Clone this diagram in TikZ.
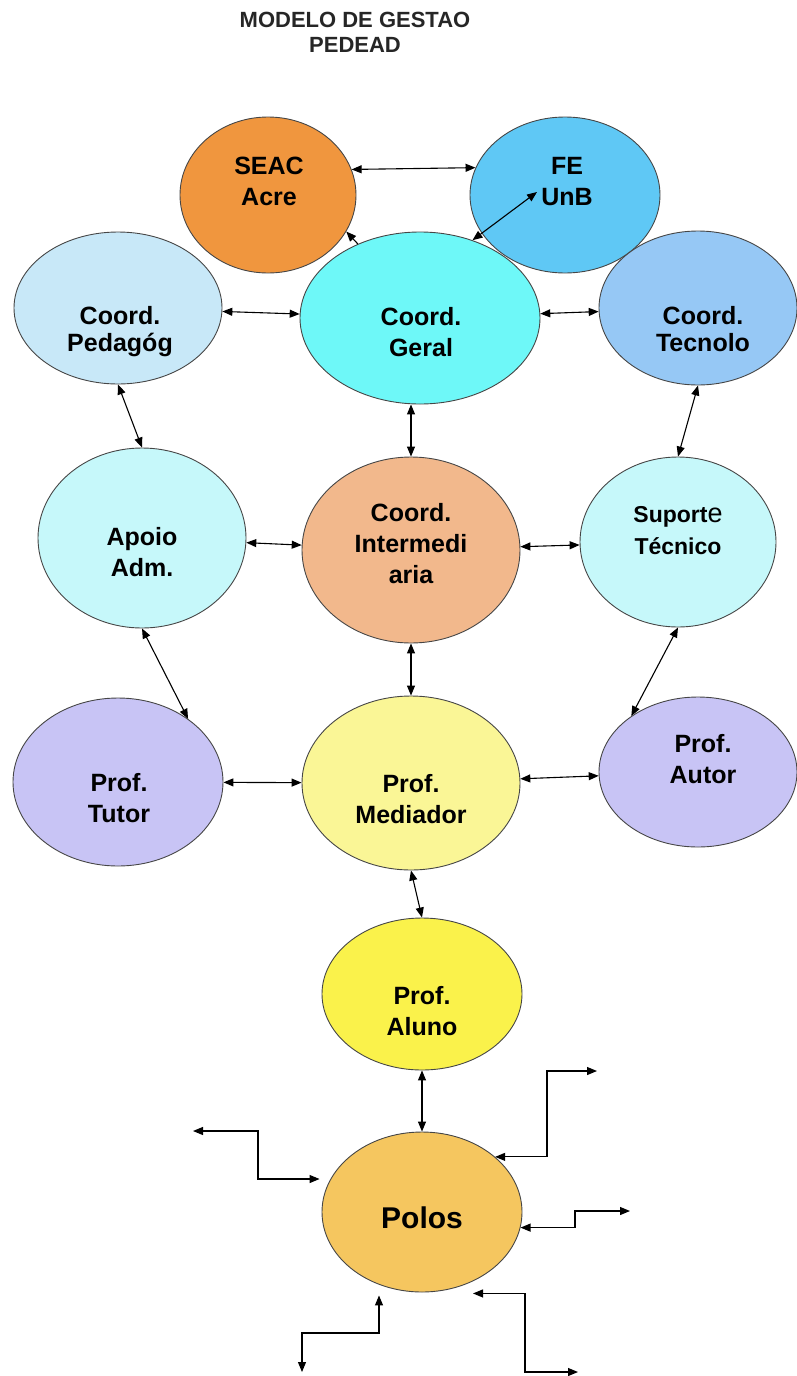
\documentclass[tikz,border=0pt]{standalone}
\usepackage{fontspec}
\setmainfont{Liberation Sans}
\usetikzlibrary{shapes.geometric,arrows.meta,calc}

\definecolor{cSeac}{RGB}{240,150,62}
\definecolor{cFe}{RGB}{95,200,245}
\definecolor{cGeral}{RGB}{110,248,248}
\definecolor{cPedag}{RGB}{200,232,248}
\definecolor{cTecno}{RGB}{150,200,245}
\definecolor{cApoio}{RGB}{198,248,250}
\definecolor{cInter}{RGB}{242,184,140}
\definecolor{cProf}{RGB}{200,196,245}
\definecolor{cMedi}{RGB}{250,246,150}
\definecolor{cAluno}{RGB}{250,242,75}
\definecolor{cPolos}{RGB}{245,198,95}
\definecolor{cEdge}{RGB}{70,70,70}

\begin{document}
\begin{tikzpicture}[x=1pt,y=-1pt,
  ell/.style={ellipse, draw=cEdge, line width=0.9pt, inner sep=0pt},
  txt/.style={inner sep=0pt, align=center, text=black,
    font=\bfseries\fontsize{25}{31}\selectfont},
  txtnarrow/.style={txt, font=\bfseries\fontsize{25}{27}\selectfont},
  tip/.tip={Triangle[length=10pt,width=8pt]},
  dbl/.style={tip-tip, line width=1.1pt, black},
  sgl/.style={-tip, line width=1.1pt, black}]

\useasboundingbox (0,0) rectangle (796,1376);

% title
\node[inner sep=0pt, align=center, text=black!85,
  font=\bfseries\fontsize{22}{25}\selectfont] (title) at (355,35)
  {\strut MODELO DE GESTAO\\PEDEAD\strut};

% ellipses
\node[ell, fill=cSeac, minimum width=176pt, minimum height=156pt] (seac) at (268,195) {};
\node[ell, fill=cFe, minimum width=190pt, minimum height=156pt] (fe) at (565,195) {};
\node[ell, fill=cPedag, minimum width=208pt, minimum height=152pt] (pedag) at (118,308) {};
\node[ell, fill=cGeral, minimum width=240pt, minimum height=172pt] (geral) at (420,318) {};
\node[ell, fill=cTecno, minimum width=198pt, minimum height=154pt] (tecno) at (698,308) {};
\node[ell, fill=cApoio, minimum width=208pt, minimum height=180pt] (apoio) at (142,538) {};
\node[ell, fill=cInter, minimum width=218pt, minimum height=186pt] (inter) at (411,550) {};
\node[ell, fill=cApoio, minimum width=196pt, minimum height=170pt] (suporte) at (678,542) {};
\node[ell, fill=cProf, minimum width=210pt, minimum height=168pt] (tutor) at (118,782) {};
\node[ell, fill=cMedi, minimum width=218pt, minimum height=174pt] (medi) at (411,783) {};
\node[ell, fill=cProf, minimum width=198pt, minimum height=150pt] (autor) at (698,772) {};
\node[ell, fill=cAluno, minimum width=200pt, minimum height=152pt] (aluno) at (422,994) {};
\node[ell, fill=cPolos, minimum width=200pt, minimum height=160pt] (polos) at (422,1212) {};

% labels
\node[txt] (tseac) at (269,184) {\strut SEAC\\Acre\strut};
\node[txt] (tfe) at (567,184) {\strut FE\\UnB\strut};
\node[txtnarrow] (tpedag) at (120,333) {\strut Coord.\\Pedagóg\strut};
\node[txt] (tgeral) at (421,335) {\strut Coord.\\Geral\strut};
\node[txtnarrow] (ttecno) at (703,333) {\strut Coord.\\Tecnolo\strut};
\node[txt] (tapoio) at (142,555) {\strut Apoio\\Adm.\strut};
\node[txt] (tinter) at (411,546) {\strut Coord.\\Intermedi\\aria\strut};
\node[txt, font=\bfseries\fontsize{23}{32}\selectfont] (tsuporte) at (678,532)
  {\strut Suport{\mdseries\fontsize{27}{32}\selectfont e}\\Técnico\strut};
\node[txt] (ttutor) at (119,801) {\strut Prof.\\Tutor\strut};
\node[txt] (tmedi) at (411,802) {\strut Prof.\\Mediador\strut};
\node[txt] (tautor) at (703,762) {\strut Prof.\\Autor\strut};
\node[txt] (taluno) at (422,1014) {\strut Prof.\\Aluno\strut};
\node[txt, font=\bfseries\fontsize{30}{36}\selectfont] (tpolos) at (422,1221) {\strut Polos};

% connectors
\draw[dbl] (seac.17) -- (fe.163);
\draw[dbl] (geral.56) -- ($(fe.center)+(-28,-3)$);
\draw[sgl] (geral.130) -- (seac.-25);
\draw[dbl] (pedag) -- (geral);
\draw[dbl] (geral) -- (tecno);
\draw[dbl] (pedag.south) -- (apoio.north);
\draw[dbl] (geral.south -| inter.north) -- (inter.north);
\draw[dbl] (tecno.south) -- (suporte.north);
\draw[dbl] (apoio) -- (inter);
\draw[dbl] (inter) -- (suporte);
\draw[dbl] (apoio.south) -- (tutor.42);
\draw[dbl] (inter.south) -- (medi.north);
\draw[dbl] (suporte.south) -- (autor.140);
\draw[dbl] (tutor) -- (medi);
\draw[dbl] (medi) -- (autor);
\draw[dbl] (medi.south) -- (aluno.north);
\draw[dbl] (aluno.south) -- (polos.north);

% Polos outward connectors
\coordinate (l0) at (193,1131);
\coordinate (l1) at (258,1179);
\draw[dbl] (l0) -| (l1) -- ($(polos.west)+(-2,-33)$);

\coordinate (tr1) at (547,1071);
\coordinate (tr2) at (597,1071);
\draw[dbl] (polos.37) -| (tr1) -- (tr2);

\coordinate (r1) at (575,1211);
\coordinate (r2) at (630,1211);
\draw[dbl] (polos.-9) -| (r1) -- (r2);

\coordinate (br1) at (525,1372);
\coordinate (br2) at (578,1372);
\draw[dbl] ($(polos.south)+(51,1)$) -| (br1) -- (br2);

\coordinate (bl1) at (302,1333);
\coordinate (bl2) at (302,1372);
\draw[dbl] ($(polos.south)+(-43,3)$) |- (bl1) -- (bl2);

\end{tikzpicture}
\end{document}
